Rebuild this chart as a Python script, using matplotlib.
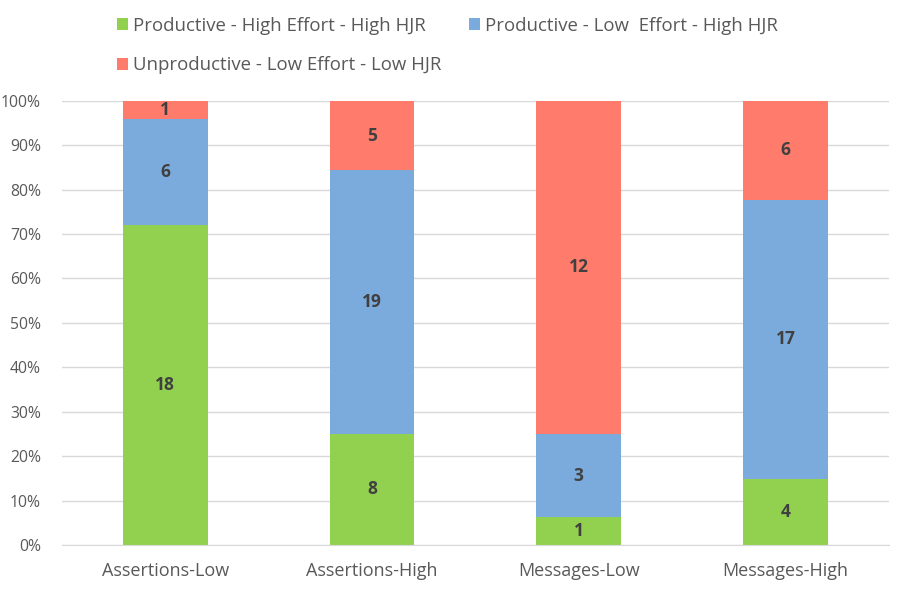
import numpy as np
import matplotlib as mlp
mlp.use('Agg')
import matplotlib.pyplot as plt
from matplotlib.ticker import PercentFormatter

categories = ['Assertions-Low', 'Assertions-High', 'Messages-Low', 'Messages-High']
series_names = ['Productive - High Effort - High HJR',
                'Productive - Low  Effort - High HJR',
                'Unproductive - Low Effort - Low HJR']
high_effort = [18, 8, 1, 4]
low_effort = [6, 19, 3, 17]
unproductive = [1, 5, 12, 6]
colors = ['#92D050', '#7AABDC', '#FF7C6C']

plt.rcParams['font.family'] = ['Open Sans', 'DejaVu Sans']

counts = np.array([high_effort, low_effort, unproductive], dtype=float)
totals = counts.sum(axis=0)
shares = counts / totals * 100

fig = plt.figure(figsize=(8.97, 5.93), dpi=100)
ax = fig.add_axes([0.069, 0.081, 0.922, 0.749])
x = np.arange(len(categories))
bottom = np.zeros(len(categories))
handles = []
for i in range(3):
    h = ax.bar(x, shares[i], 0.41, bottom=bottom, color=colors[i], zorder=2)
    handles.append(h)
    for j in range(len(categories)):
        ax.text(x[j], bottom[j] + shares[i][j] / 2, str(int(counts[i][j])),
                ha='center', va='center', fontsize=12.5, fontweight='bold',
                color='#404040', zorder=3)
    bottom += shares[i]

ax.set_xlim(-0.5, 3.5)
ax.set_ylim(0, 100)
ax.set_yticks(np.arange(0, 101, 10))
ax.yaxis.set_major_formatter(PercentFormatter(decimals=0))
ax.set_xticks(x)
ax.set_xticklabels(categories, fontsize=13, color='#595959')
ax.tick_params(axis='y', labelsize=11.3, colors='#595959', length=0, pad=15)
ax.tick_params(axis='x', length=0, pad=12)
ax.grid(axis='y', color='#D9D9D9', linewidth=1, zorder=0)
for s in ['top', 'right', 'left']:
    ax.spines[s].set_visible(False)
ax.spines['bottom'].set_color('#D9D9D9')

# column-wise legend: green, red in col 1, blue in col 2
fig.legend([handles[0], handles[2], handles[1]],
           [series_names[0], series_names[2], series_names[1]],
           ncol=2, loc='upper left', bbox_to_anchor=(0.130, 0.972),
           frameon=False, fontsize=13.4, handlelength=0.6, handleheight=0.6,
           handletextpad=0.3, labelspacing=1.17, columnspacing=1.45,
           borderpad=0, borderaxespad=0, labelcolor='#595959')

fig.savefig('out.png', dpi=100)
